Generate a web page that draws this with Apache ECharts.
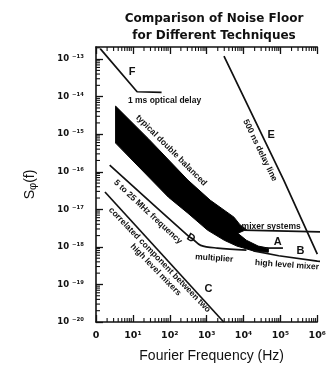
<!DOCTYPE html>
<html>
<head>
<meta charset="utf-8">
<script src="https://cdn.jsdelivr.net/npm/echarts@6/dist/echarts.min.js"></script>
<style>
  html, body { margin: 0; padding: 0; background: #fff; }
  #chart { width: 329px; height: 369px; }
</style>
</head>
<body>
<div id="chart"></div>
<script>
// ---- data: [Fourier frequency (Hz), S_phi(f)] ----
const lineF     = [[1.3, 1.9e-13], [13, 1.35e-14], [60, 1.3e-14]];                 // 1 ms optical delay
const lineE     = [[2950, 1.2e-13], [1.23e5, 6.0e-17], [1e6, 6.4e-19]];              // 500 ns delay line
const lineMixer = [[1.0e4, 2.8e-18], [1.5e6, 2.5e-18]];                              // mixer systems
const lineA     = [[4.0e4, 9.3e-19], [1.17e5, 9.3e-19]];
const lineB     = [[1.86e4, 7.8e-19], [9.0e4, 5.8e-19], [1e6, 4.2e-19], [1.5e6, 4.0e-19]]; // high level mixer
const lineD     = [[2.35, 1.5e-16], [310, 2.0e-18], [425, 1.6e-18], [690, 1.1e-18], [1950, 9.3e-19], [1.2e4, 8.2e-19]];
const lineC     = [[1.75, 2.9e-17], [2900, 1e-20]];

// typical double balanced mixer band (upper edge, then A wedge, then lower edge back)
const bandUpper = [[3.4, 5.6e-15], [27, 7.4e-16], [310, 6.0e-17], [1260, 1.74e-17], [5500, 6.2e-18], [8000, 3.9e-18], [1.2e4, 2.9e-18]];
const bandWedge = [[7000, 2.3e-18], [1.2e4, 1.5e-18], [2.5e4, 1.05e-18], [4.7e4, 9.3e-19]];
const bandLower = [[4.7e4, 7.2e-19], [1.86e4, 7.8e-19], [6600, 1.05e-18], [3000, 1.5e-18], [1050, 2.8e-18], [310, 7.9e-18], [92, 2.1e-17], [3.4, 5.8e-16]];

// annotations
const annoText = ['F', '1 ms optical delay', 'typical double balanced', '500 ns delay line', 'E',
  'mixer systems', 'A', 'B', 'high level mixer', 'multiplier', 'D',
  '5 to 25 MHz frequency', 'correlated component between two', 'high level mixers', 'C'];
const annoAt = [[9.6, 4.5e-14], [72, 7.6e-15], [110, 3.7e-16], [2.8e4, 3.7e-16], [5.6e4, 9.3e-16],
  [5.6e4, 3.5e-18], [8.5e4, 1.35e-18], [3.5e5, 7.8e-19], [1.5e5, 3.3e-19], [1600, 5e-19], [375, 1.7e-18],
  [25.5, 8.5e-18], [53, 4.5e-19], [41.6, 2.45e-19], [1120, 7.6e-20]];
const annoRot  = [0, 0, -45, -64, 0, 0, 0, 0, -4, -4, -30, -43, -46, -46, 0];
const annoBig  = ['F', 'E', 'A', 'B', 'C', 'D'];

// axes
const xMin = 1, xMax = 1e6;
const yMin = 1e-20, yMax = 2.1e-13;
const minorMant = [2, 3, 4, 5, 6, 7, 8, 9];
const xDecades = [1, 10, 100, 1e3, 1e4, 1e5];
const yDecades = [1e-20, 1e-19, 1e-18, 1e-17, 1e-16, 1e-15, 1e-14, 1e-13];

const xMinor = [];
xDecades.forEach(d => minorMant.forEach(m => xMinor.push([m * d, yMin])));
const yMinor = [];
yDecades.forEach(d => minorMant.forEach(m => { if (m * d < yMax) yMinor.push([xMin, m * d]); }));

const SUP = { '-': '⁻', '0': '⁰', '1': '¹', '2': '²', '3': '³', '4': '⁴', '5': '⁵', '6': '⁶', '7': '⁷', '8': '⁸', '9': '⁹' };
const sup = s => String(s).split('').map(c => SUP[c] || c).join('');
function expOf(v) {
  const e = Math.log10(v);
  const r = Math.round(e);
  return Math.abs(e - r) < 0.01 ? r : null;
}

const INK = '#111';
const FONT = '"Liberation Sans", Arial, sans-serif';

const chart = echarts.init(document.getElementById('chart'), null, { renderer: 'canvas' });

const lineStyle = { color: INK, width: 1.7 };
function curve(data, extra) {
  return Object.assign({
    type: 'line', data, symbol: 'none', silent: true, clip: false,
    lineStyle, z: 3, animation: false,
  }, extra || {});
}

const baseX = {
  type: 'log', min: xMin, max: xMax, logBase: 10,
  axisLine: { show: true, lineStyle: { color: INK, width: 1.6 } },
  axisTick: { show: true, inside: true, length: 7, lineStyle: { color: INK, width: 1.3 } },
  splitLine: { show: false },
  minorTick: { show: false },
};

chart.setOption({
  animation: false,
  backgroundColor: '#fff',
  title: {
    text: 'Comparison of Noise Floor\nfor Different Techniques',
    left: 209, top: 5, textAlign: 'center',
    textStyle: { fontFamily: '"DejaVu Sans", sans-serif', fontSize: 12, fontWeight: 'bold', color: INK, lineHeight: 17 },
  },
  grid: { left: 96, right: 7, top: 47, bottom: 47 },
  xAxis: [
    Object.assign({}, baseX, {
      position: 'bottom',
      name: 'Fourier Frequency (Hz)', nameLocation: 'middle', nameGap: 27,
      nameTextStyle: { fontFamily: FONT, fontSize: 14, color: INK, padding: [0, 0, 0, 10] },
      axisLabel: {
        margin: 9, color: INK, fontFamily: '"DejaVu Sans", sans-serif', fontSize: 9.5, fontWeight: 'bold',
        showMaxLabel: true,
        formatter: v => { const e = expOf(v); return e === null ? '' : (e === 0 ? '0' : '10' + sup(e)); },
      },
    }),
    Object.assign({}, baseX, { position: 'top', axisLabel: { show: false } }),
  ],
  yAxis: {
    type: 'log', min: yMin, max: yMax, logBase: 10,
    name: '{s|S}{sub|φ}{s|(f)}', nameLocation: 'middle', nameGap: 58, nameRotate: 90,
    nameTextStyle: {
      rich: {
        s: { fontFamily: FONT, fontSize: 14, color: INK, lineHeight: 16 },
        sub: { fontFamily: FONT, fontSize: 11, color: INK, verticalAlign: 'bottom', lineHeight: 12 },
      },
    },
    axisLine: { show: true, lineStyle: { color: INK, width: 1.6 } },
    axisTick: { show: true, inside: true, length: 7, lineStyle: { color: INK, width: 1.3 } },
    splitLine: { show: false },
    minorTick: { show: false },
    axisLabel: {
      margin: 12, color: INK, fontFamily: '"DejaVu Sans", sans-serif', fontSize: 8.5, fontWeight: 'bold',
      showMaxLabel: false,
      formatter: v => { const e = expOf(v); return e === null ? '' : '10 ' + sup(e); },
    },
  },
  series: [
    // minor log ticks, bottom and top
    {
      type: 'custom', data: xMinor, silent: true, z: 2,
      renderItem: (params, api) => {
        const cs = params.coordSys;
        const p = api.coord([api.value(0), api.value(1)]);
        const st = { stroke: INK, lineWidth: 1.1 };
        return { type: 'group', children: [
          { type: 'line', shape: { x1: p[0], y1: cs.y + cs.height, x2: p[0], y2: cs.y + cs.height - 4 }, style: st },
          { type: 'line', shape: { x1: p[0], y1: cs.y, x2: p[0], y2: cs.y + 4 }, style: st },
        ] };
      },
    },
    // minor log ticks, left
    {
      type: 'custom', data: yMinor, silent: true, z: 2,
      renderItem: (params, api) => {
        const cs = params.coordSys;
        const p = api.coord([api.value(0), api.value(1)]);
        return { type: 'line', shape: { x1: cs.x, y1: p[1], x2: cs.x + 4, y2: p[1] }, style: { stroke: INK, lineWidth: 1.1 } };
      },
    },
    // double balanced mixer band
    {
      type: 'custom', data: [bandUpper[0]], silent: true, z: 2,
      renderItem: (params, api) => {
        const pts = bandUpper.concat(bandWedge, bandLower).map(d => api.coord(d));
        return { type: 'polygon', shape: { points: pts }, style: { fill: '#000', stroke: '#000', lineWidth: 1 } };
      },
    },
    curve(lineF),
    curve(lineE),
    curve(lineMixer),
    curve(lineA),
    curve(lineB),
    curve(lineD, { smooth: 0.35 }),
    curve(lineC),
    // annotations
    {
      type: 'custom', data: annoAt, silent: true, z: 5,
      renderItem: (params, api) => {
        const i = params.dataIndex;
        const p = api.coord([api.value(0), api.value(1)]);
        const big = annoBig.indexOf(annoText[i]) >= 0;
        return {
          type: 'text', x: p[0], y: p[1], rotation: annoRot[i] * Math.PI / 180,
          style: {
            text: annoText[i], fill: INK, align: 'center', verticalAlign: 'middle',
            font: 'bold ' + (big ? 11 : 8.5) + 'px ' + FONT,
          },
        };
      },
    },
  ],
});
</script>
</body>
</html>
